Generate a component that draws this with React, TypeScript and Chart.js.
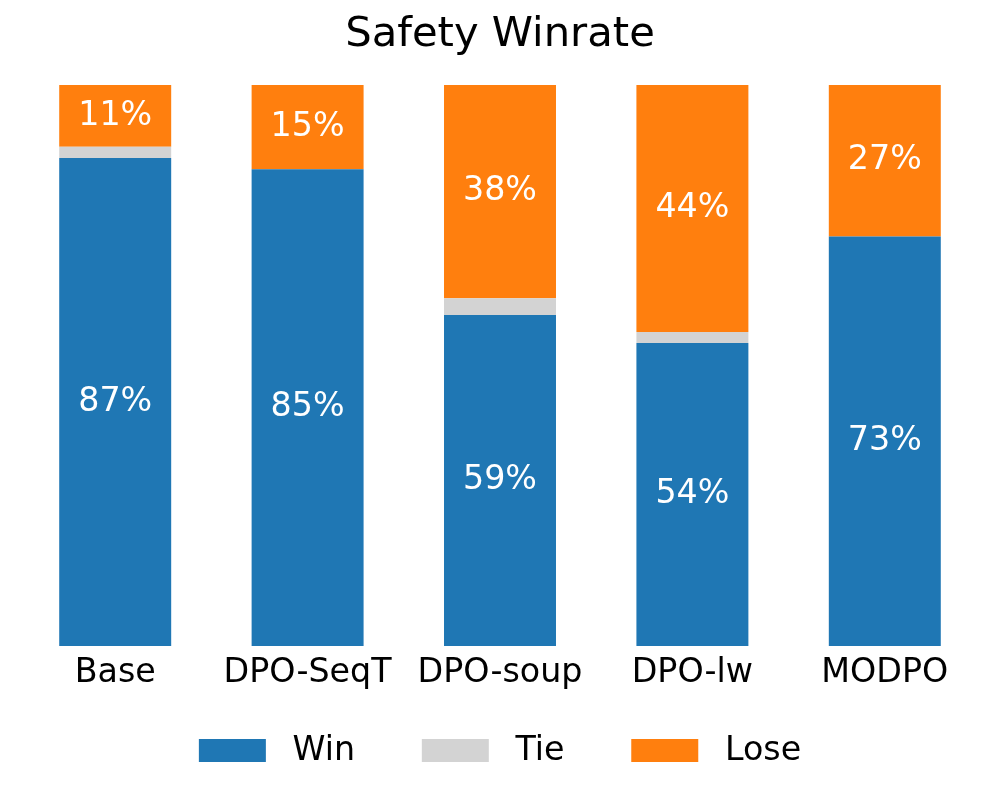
import React, { useEffect, useRef } from "react";
import { Chart, registerables } from "chart.js";

Chart.register(...registerables);

const categories = ["Base", "DPO-SeqT", "DPO-soup", "DPO-lw", "MODPO"];
const winValues = [87, 85, 59, 54, 73];
const tieValues = [2, 0, 3, 2, 0];
const loseValues = [11, 15, 38, 44, 27];
const seriesNames = ["Win", "Tie", "Lose"];
const seriesColors = ["#1f77b4", "#d3d3d3", "#ff7f0e"];
const labeledSeries = [0, 2];

const FONT = "'DejaVu Sans', sans-serif";
const FS = 33.3;

const valueLabels = {
  id: "valueLabels",
  afterDatasetsDraw(chart: any) {
    const ctx = chart.ctx;
    ctx.save();
    ctx.font = `${FS}px ${FONT}`;
    ctx.fillStyle = "#ffffff";
    ctx.textAlign = "center";
    ctx.textBaseline = "middle";
    labeledSeries.forEach((di) => {
      const meta = chart.getDatasetMeta(di);
      const data = chart.data.datasets[di].data as number[];
      meta.data.forEach((el: any, i: number) => {
        const v = data[i];
        if (!v) return;
        const y = (el.y + el.base) / 2;
        ctx.fillText(`${v}%`, el.x, y);
      });
    });
    ctx.restore();
  },
};

const bottomLegend = {
  id: "bottomLegend",
  afterDraw(chart: any) {
    const ctx = chart.ctx;
    const boxW = 67;
    const boxH = 23;
    const textPad = 26.7;
    const colGap = 66.7;
    const cy = 751;
    ctx.save();
    ctx.font = `${FS}px ${FONT}`;
    const items = chart.data.datasets.map((d: any) => ({
      text: d.label as string,
      color: d.backgroundColor as string,
      w: ctx.measureText(d.label).width,
    }));
    let total = 0;
    items.forEach((it: any, i: number) => {
      total += boxW + textPad + it.w + (i < items.length - 1 ? colGap : 0);
    });
    let x = chart.width / 2 - total / 2;
    ctx.textAlign = "left";
    ctx.textBaseline = "middle";
    items.forEach((it: any) => {
      ctx.fillStyle = it.color;
      ctx.fillRect(x, cy - 0.5 - boxH / 2, boxW, boxH);
      ctx.fillStyle = "#000000";
      ctx.fillText(it.text, x + boxW + textPad, cy);
      x += boxW + textPad + it.w + colGap;
    });
    ctx.restore();
  },
};

export default function App() {
  const ref = useRef<HTMLCanvasElement | null>(null);

  useEffect(() => {
    document.body.style.margin = "0";
    if (!ref.current) return;
    const valuesList = [winValues, tieValues, loseValues];
    const chart = new Chart(ref.current, {
      type: "bar",
      data: {
        labels: categories,
        datasets: seriesNames.map((name, i) => ({
          label: name,
          data: valuesList[i],
          backgroundColor: seriesColors[i],
          borderWidth: 0,
          barPercentage: 0.582,
          categoryPercentage: 1,
        })),
      },
      options: {
        animation: false,
        responsive: false,
        devicePixelRatio: 1,
        layout: { padding: { left: 19, right: 19, top: 0, bottom: 100 } },
        plugins: {
          legend: { display: false },
          tooltip: { enabled: false },
          title: {
            display: true,
            text: "Safety Winrate",
            color: "#000000",
            font: { family: FONT, size: 41.7, weight: "normal", lineHeight: 1.2 },
            padding: { top: 10, bottom: 25 },
          },
        },
        scales: {
          x: {
            stacked: true,
            grid: { display: false, drawTicks: false },
            border: { display: false },
            ticks: {
              color: "#000000",
              padding: 7,
              font: { family: FONT, size: FS, lineHeight: 1.2 },
            },
          },
          y: {
            stacked: true,
            display: false,
            min: 0,
            max: 100,
          },
        },
      },
      plugins: [valueLabels, bottomLegend],
    });
    return () => chart.destroy();
  }, []);

  return (
    <div style={{ width: 1000, height: 800, background: "#ffffff" }}>
      <canvas ref={ref} width={1000} height={800} style={{ display: "block" }} />
    </div>
  );
}
